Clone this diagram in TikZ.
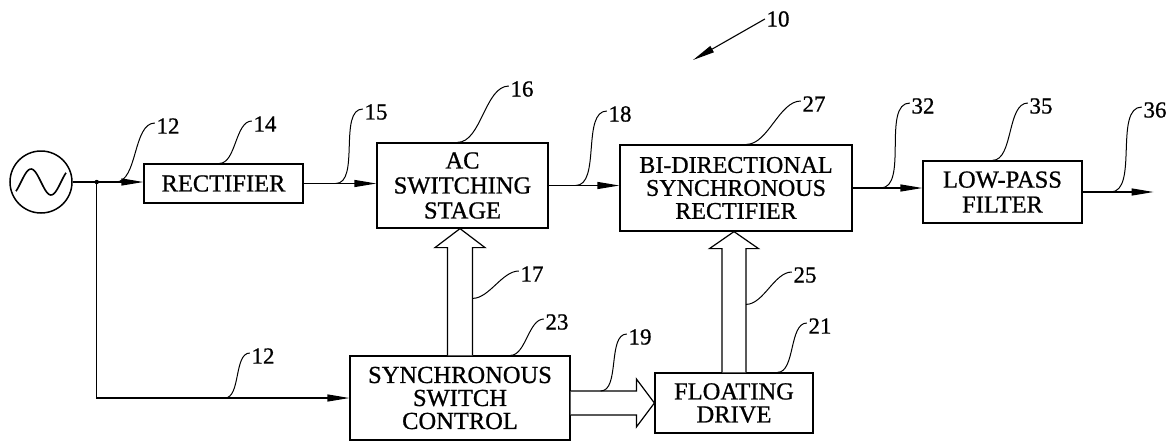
\documentclass[tikz,border=0pt]{standalone}
\usepackage{fontspec}
\setmainfont{Liberation Serif}
\newfontfamily\patfont{Liberation Serif}[FakeBold=0.8]
\usetikzlibrary{arrows.meta,calc}
\begin{document}
\begin{tikzpicture}[x=1pt,y=-1pt,
  line width=1.2pt,
  blk/.style={draw,rectangle,inner sep=0pt,align=center,font=\patfont\fontsize{24.5}{25}\selectfont},
  lbl/.style={inner sep=1pt,font=\patfont\fontsize{23}{24}\selectfont},
  wirearr/.style={-{Triangle[length=22pt,width=7pt]}},
  lead/.style={line width=1pt,out=0,in=180,looseness=0.8},
  hollow/.style={line width=1.2pt,fill=white}]
\useasboundingbox (0,0) rectangle (1174,442);

% source
\node[draw,circle,line width=1.5pt,minimum size=62pt,inner sep=0pt] (src) at (41,182) {};
\draw[shift={(src.center)},line width=1.6pt] plot[domain=-25:25,smooth,samples=40] (\x,{-13*sin(\x*9+180)});

% blocks
\node[blk,minimum width=159pt,minimum height=39pt] (rect) at (223.5,183.5) {RECTIFIER};
\node[blk,minimum width=171pt,minimum height=85pt] (ac) at (462.5,185.5) {AC\\SWITCHING\\STAGE};
\node[blk,minimum width=232pt,minimum height=86pt,font=\patfont\fontsize{24}{23}\selectfont] (bi) at (736,188) {BI-DIRECTIONAL\\SYNCHRONOUS\\RECTIFIER};
\node[blk,minimum width=159pt,minimum height=62pt] (lpf) at (1002.5,192) {LOW-PASS\\FILTER};
\node[blk,minimum width=220pt,minimum height=84pt,font=\patfont\fontsize{24.5}{23}\selectfont] (ssc) at (460,398) {SYNCHRONOUS\\SWITCH\\CONTROL};
\node[blk,minimum width=158pt,minimum height=60pt,font=\patfont\fontsize{24.5}{23}\selectfont] (fd) at (734,403) {FLOATING\\DRIVE};

% wires
\coordinate (j) at ($(src.east)+(24,0)$);
\draw[wirearr] (src.east) -- (src.east -| rect.west);
\fill (j) circle (2.2);
\draw[wirearr] (j) |- (ssc.west);
\draw[wirearr] (rect.east) -- (rect.east -| ac.west);
\draw[wirearr] (ac.east) -- (ac.east -| bi.west);
\draw[wirearr] (bi.east) -- (bi.east -| lpf.west);
\coordinate (out) at ($(lpf.east)+(71,0)$);
\draw[wirearr] (lpf.east) -- (out);

% hollow arrows
\draw[hollow] let \p1=(ssc.north), \p2=(ac.south) in
  (\x1-12.5pt,\y1) -- (\x1-12.5pt,\y2-19pt) -- (\x1-25pt,\y2-19pt) -- (\x1,\y2)
  -- (\x1+25pt,\y2-19pt) -- (\x1+12.5pt,\y2-19pt) -- (\x1+12.5pt,\y1);
\draw[hollow] let \p1=(fd.north), \p2=(bi.south) in
  (\x1-12pt,\y1) -- (\x1-12pt,\y2-17pt) -- (\x1-24.5pt,\y2-17pt) -- (\x1,\y2)
  -- (\x1+24.5pt,\y2-17pt) -- (\x1+12pt,\y2-17pt) -- (\x1+12pt,\y1);
\draw[hollow] let \p1=(ssc.east), \p2=(fd.west) in
  (\x1,\y2+12pt) -- (\x2-18pt,\y2+12pt) -- (\x2-18pt,\y2+24pt) -- (\x2,\y2)
  -- (\x2-18pt,\y2-24pt) -- (\x2-18pt,\y2-12pt) -- (\x1,\y2-12pt);

% labels
\node[lbl] (l10) at (778,19) {10};
\node[lbl] (l12a) at (168,126) {12};
\node[lbl] (l14) at (265,124) {14};
\node[lbl] (l15) at (376,112) {15};
\node[lbl] (l16) at (522,89) {16};
\node[lbl] (l18) at (620,114) {18};
\node[lbl] (l27) at (814,104) {27};
\node[lbl] (l32) at (923,106) {32};
\node[lbl] (l35) at (1041,106) {35};
\node[lbl] (l36) at (1155,110) {36};
\node[lbl] (l17) at (532,274) {17};
\node[lbl] (l23) at (557,322) {23};
\node[lbl] (l12b) at (263,356) {12};
\node[lbl] (l25) at (805,275) {25};
\node[lbl] (l21) at (820,326) {21};
\node[lbl] (l19) at (640,337) {19};

% reference arrow
\coordinate (t10) at (693,60);
\draw[wirearr,line width=1.1pt] (l10.west) -- (t10);

% leaders
\draw[lead] ($(src.east)+(43,0)$) to ($(l12a.west)+(0,-3)$);
\draw[lead] ($(rect.north west)+(76,0)$) to ($(l14.west)+(0,-3)$);
\draw[lead] ($(rect.east)+(32,0)$) to ($(l15.west)+(0,-3)$);
\draw[lead] ($(ac.north west)+(81,0)$) to ($(l16.west)+(0,-3)$);
\draw[lead] ($(ac.east)+(27,0)$) to ($(l18.west)+(0,-3)$);
\draw[lead] ($(bi.north west)+(127,0)$) to ($(l27.west)+(0,-3)$);
\draw[lead] ($(bi.east)+(28,0)$) to ($(l32.west)+(0,-3)$);
\draw[lead] ($(lpf.north west)+(70,0)$) to ($(l35.west)+(0,-3)$);
\draw[lead] ($(lpf.east)+(28,0)$) to ($(l36.west)+(0,-3)$);
\draw[lead] ($(ssc.north)+(12.5,-57)$) to ($(l17.west)+(0,-3)$);
\draw[lead] ($(ssc.north west)+(161,0)$) to ($(l23.west)+(0,-3)$);
\draw[lead] ($(j |- ssc.west)+(128,0)$) to ($(l12b.west)+(0,-3)$);
\draw[lead] ($(fd.north)+(12,-68)$) to ($(l25.west)+(0,-3)$);
\draw[lead] ($(fd.north west)+(123,0)$) to ($(l21.west)+(0,-3)$);
\draw[lead] ($(ssc.east |- fd.west)+(30,-12)$) to ($(l19.west)+(0,-3)$);
\end{tikzpicture}
\end{document}
